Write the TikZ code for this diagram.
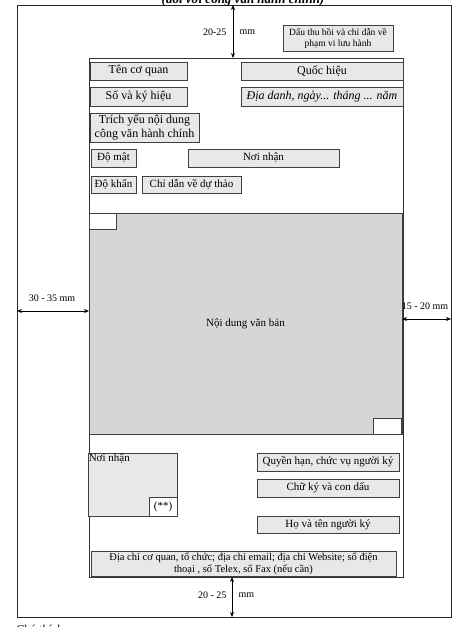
\documentclass[tikz,border=0pt]{standalone}
\usepackage{fontspec}
\setmainfont{Liberation Serif}
\usetikzlibrary{arrows.meta}

\begin{document}
\begin{tikzpicture}[x=1pt, y=-1pt, every node/.style={font=\fontsize{11}{12.5}\selectfont}, >={Stealth[length=5pt, width=4pt]},
	box/.style={draw=black!75, line width=0.8pt, fill=gray!18, inner sep=0pt, align=center},
	big/.style={font=\fontsize{12}{13.5}\selectfont},
	dimtext/.style={font=\fontsize{10}{11}\selectfont}]
	\clip (0,0) rectangle (459,627);
	\fill[white] (0,0) rectangle (459,627);
	% page and text area
	\node[draw=black!85, line width=0.9pt, minimum width=434pt, minimum height=612pt, inner sep=0pt] (page) at (234,311) {};
	\node[draw=black!80, line width=0.8pt, minimum width=314pt, minimum height=519pt, inner sep=0pt] (area) at (246,317.5) {};
	\node[font=\fontsize{13}{14}\selectfont\bfseries\itshape, anchor=base] (title) at (243,3) {(đối với công văn hành chính)};
	\node[font=\fontsize{12}{13}\selectfont\itshape, anchor=base west] (note) at (12,633) {Chú thích:};
	% header
	\node[box, minimum width=110pt, minimum height=26pt, font=\fontsize{9.5}{11}\selectfont] (dauthu) at (338,38) {Dấu thu hồi và chỉ dẫn về\\phạm vi lưu hành};
	\node[box, big, minimum width=97pt, minimum height=18pt] (tencq) at (138.5,71) {Tên cơ quan};
	\node[box, big, minimum width=162pt, minimum height=18pt] (quochieu) at (322,71) {Quốc hiệu};
	\node[box, big, minimum width=97pt, minimum height=19pt] (sokh) at (138.5,96.5) {Số và ký hiệu};
	\node[box, big, minimum width=162pt, minimum height=19pt, font=\fontsize{12}{13.5}\selectfont\itshape] (diadanh) at (322,96.5) {Địa danh, ngày... tháng ... năm};
	\node[box, big, minimum width=109pt, minimum height=29pt] (trichyeu) at (144.5,127.5) {Trích yếu nội dung\\công văn hành chính};
	\node[box, minimum width=45pt, minimum height=18pt] (domat) at (113.5,158) {Độ mật};
	\node[box, minimum width=151pt, minimum height=18pt] (noinhan) at (263.5,158) {Nơi nhận};
	\node[box, minimum width=45pt, minimum height=17pt] (dokhan) at (113.5,184.5) {Độ khẩn};
	\node[box, minimum width=99pt, minimum height=17pt] (duthao) at (191.5,184.5) {Chỉ dẫn về dự thảo};
	% body
	\node[box, fill=gray!32, minimum width=313pt, minimum height=221pt] (noidung) at (245.5,323.5) {Nội dung văn bản};
	\node[box, fill=white, minimum width=27pt, minimum height=16pt] (goc1) at (102.5,221) {};
	\node[box, fill=white, minimum width=28pt, minimum height=16pt] (goc2) at (387,426) {};
	% footer
	\node[box, minimum width=89pt, minimum height=63pt] (nhan) at (132.5,484.5) {};
	\node[anchor=north west, inner sep=1pt] (nhantext) at (nhan.north west) {Nơi nhận};
	\node[box, fill=white, minimum width=28pt, minimum height=19pt] (saosao) at (163,506.5) {(**)};
	\node[box, minimum width=142pt, minimum height=18pt] (quyenhan) at (328,462) {Quyền hạn, chức vụ người ký};
	\node[box, minimum width=142pt, minimum height=18pt] (chuky) at (328,488) {Chữ ký và con dấu};
	\node[box, minimum width=142pt, minimum height=17pt] (hoten) at (328,524.5) {Họ và tên người ký};
	\node[box, minimum width=305pt, minimum height=25pt, font=\fontsize{10.5}{12}\selectfont] (diachi) at (243.5,563.5) {Địa chỉ cơ quan, tổ chức; địa chỉ email; địa chỉ Website; số điện\\thoại , số Telex, số Fax (nếu cần)};
	% margins
	\coordinate (tA) at (233,5);
	\coordinate (tB) at (233,58);
	\coordinate (bA) at (232,577);
	\coordinate (bB) at (232,617);
	\coordinate (lA) at (17,311);
	\coordinate (lB) at (89,311);
	\coordinate (rA) at (402,319);
	\coordinate (rB) at (451,319);
	\draw[<->, line width=0.8pt] (tA) -- (tB);
	\draw[<->, line width=0.8pt] (bA) -- (bB);
	\draw[<->, line width=0.8pt] (lA) -- (lB);
	\draw[<->, line width=0.8pt] (rA) -- (rB);
	\node[dimtext, anchor=east] (tnum) at (230,32) {20-25};
	\node[dimtext, anchor=west] (tmm) at (236,32) {mm};
	\node[dimtext, anchor=east] (bnum) at (230,595) {20 - 25};
	\node[dimtext, anchor=west] (bmm) at (235,595) {mm};
	\node[dimtext] (lnum) at (52,298) {30 - 35 mm};
	\node[dimtext] (rnum) at (425,306) {15 - 20 mm};
\end{tikzpicture}
\end{document}
